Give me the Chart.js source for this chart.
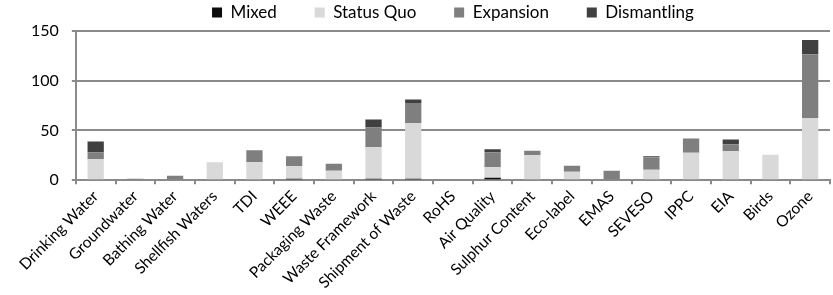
<!DOCTYPE html>
<html>
<head>
<meta charset="utf-8">
<script src="https://cdn.jsdelivr.net/npm/chart.js@4/dist/chart.umd.min.js"></script>
<style>
  html, body { margin: 0; padding: 0; background: #fff; }
  #wrap { width: 833px; height: 295px; }
</style>
</head>
<body>
<div id="wrap"><canvas id="graphique"></canvas></div>
<script>
// Données
const categories = ['Drinking Water', 'Groundwater', 'Bathing Water', 'Shellfish Waters', 'TDI', 'WEEE',
  'Packaging Waste', 'Waste Framework', 'Shipment of Waste', 'RoHS', 'Air Quality', 'Sulphur Content',
  'Eco-label', 'EMAS', 'SEVESO', 'IPPC', 'EIA', 'Birds', 'Ozone'];
const mixed       = [0, 0, 0, 0, 0, 1.5, 0, 1.5, 1.5, 0, 2.5, 0, 0, 0, 0, 0, 0, 0, 0];
const statusQuo   = [21, 0, 0, 18, 18, 12.5, 9.5, 31.5, 56, 0, 10.5, 25, 8.5, 1, 10.5, 27.5, 29, 25.5, 62.5];
const expansion   = [7, 1.5, 4.5, 0, 12, 10, 7, 20, 20, 0, 15, 4.5, 6, 8.5, 12.5, 14.5, 7, 0, 64];
const dismantling = [11, 0, 0, 0, 0, 0, 0, 8, 3.5, 0, 3, 0, 0, 0, 1, 0, 5, 0, 14.5];
const yTicks = [0, 50, 100, 150];

const police = "Lato, 'Open Sans', sans-serif";
const gris = '#8a8a8a';

function serie(label, data, couleur) {
  return { label: label, data: data, backgroundColor: couleur, borderWidth: 0,
           barPercentage: 0.41, categoryPercentage: 1 };
}

const ctx = document.getElementById('graphique').getContext('2d');
new Chart(ctx, {
  type: 'bar',
  data: {
    labels: categories,
    datasets: [
      serie('Mixed', mixed, '#0d0d0d'),
      serie('Status Quo', statusQuo, '#d9d9d9'),
      serie('Expansion', expansion, '#7f7f7f'),
      serie('Dismantling', dismantling, '#404040')
    ]
  },
  options: {
    responsive: true,
    maintainAspectRatio: false,
    animation: false,
    layout: { padding: { left: 18, right: 3, top: 1, bottom: 0 } },
    plugins: {
      legend: {
        position: 'top',
        fullSize: false,
        labels: {
          boxWidth: 10, boxHeight: 10, padding: 3,
          color: '#000',
          font: { family: police, size: 17 },
          // espace entre les entrées de la légende
          generateLabels: function (chart) {
            const items = Chart.defaults.plugins.legend.labels.generateLabels(chart);
            items.forEach((it, i) => { if (i < items.length - 1) it.text = it.text + '        '; });
            return items;
          }
        }
      },
      tooltip: { enabled: false }
    },
    scales: {
      x: {
        stacked: true,
        offset: true,
        grid: { display: true, drawOnChartArea: false, offset: true, color: gris, lineWidth: 2, tickLength: 4 },
        border: { color: gris, width: 2 },
        ticks: {
          autoSkip: false, minRotation: 45, maxRotation: 45, padding: 3,
          color: '#000', font: { family: police, size: 15.5 }
        }
      },
      y: {
        stacked: true,
        min: 0, max: 150,
        afterBuildTicks: function (axis) { axis.ticks = yTicks.map(v => ({ value: v })); },
        grid: { color: gris, lineWidth: 2, tickLength: 4 },
        border: { color: gris, width: 2 },
        ticks: { padding: 13, color: '#000', font: { family: police, size: 16 } }
      }
    }
  }
});
</script>
</body>
</html>
